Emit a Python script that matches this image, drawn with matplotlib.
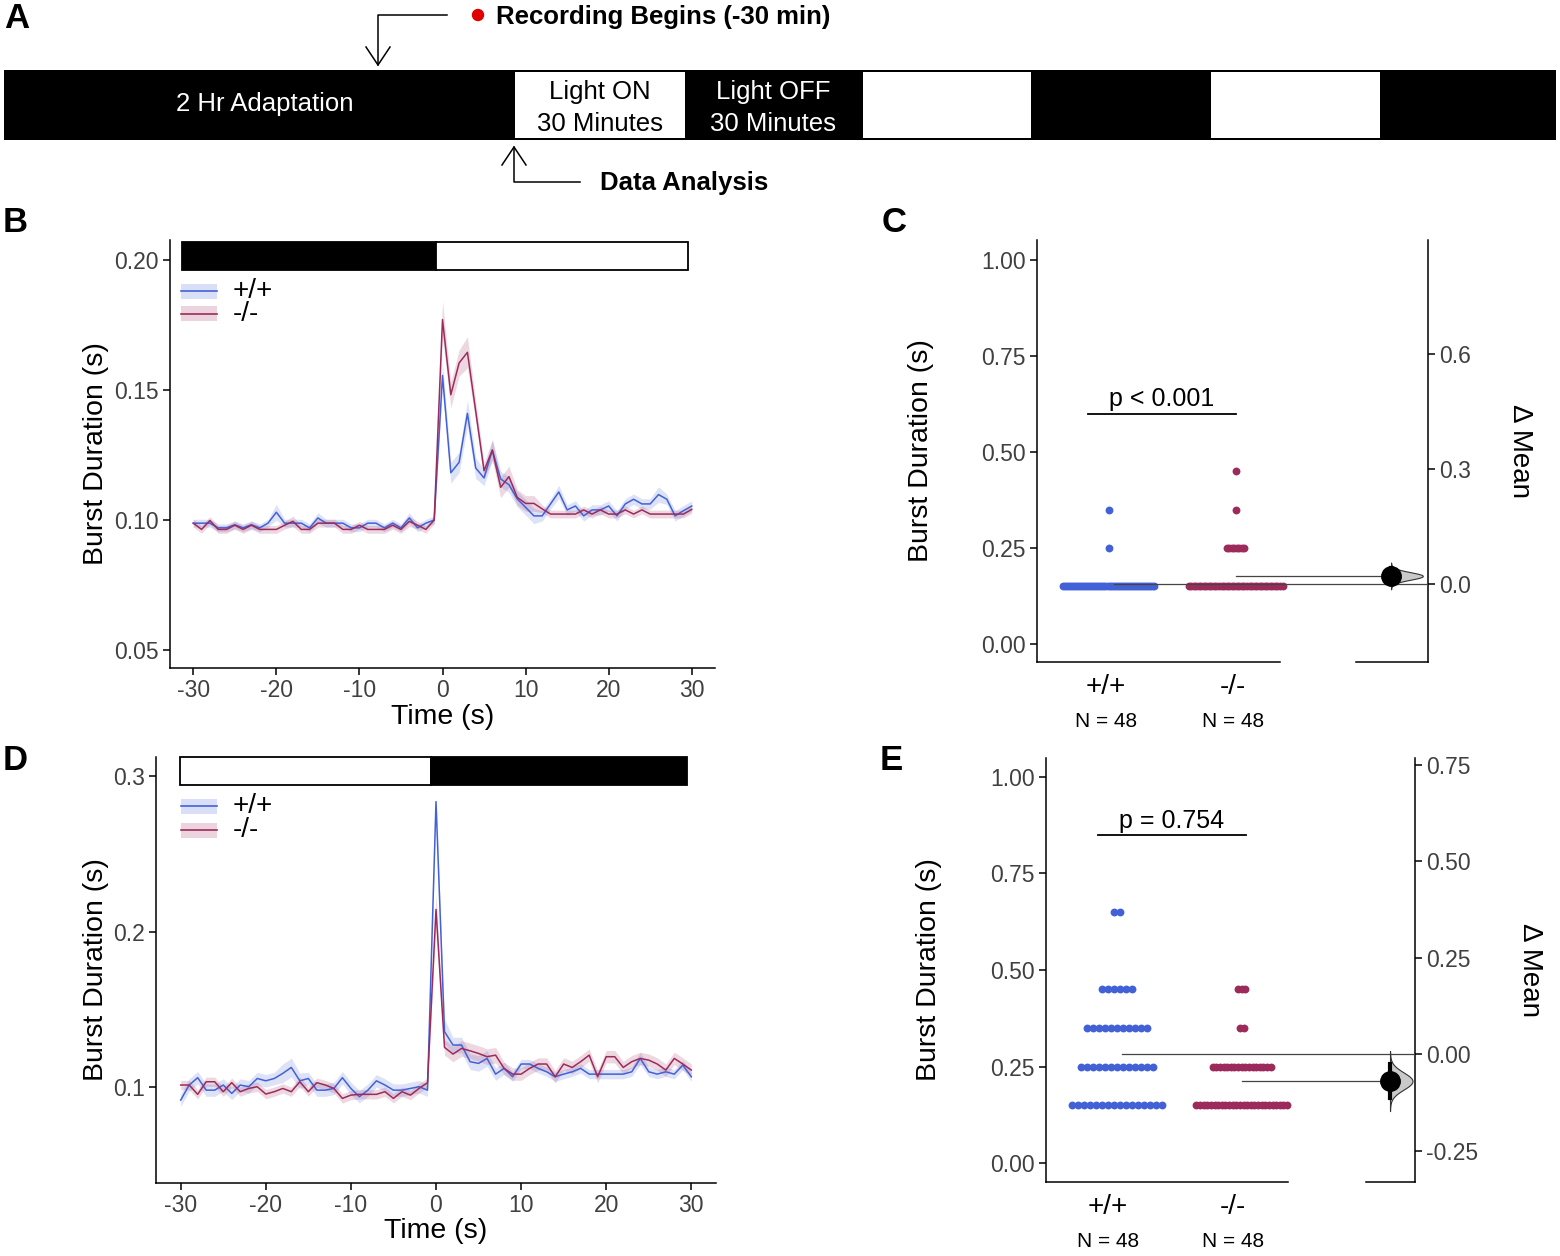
import numpy as np
import matplotlib

matplotlib.use('Agg')
import matplotlib.pyplot as plt
import matplotlib.ticker as ticker
import matplotlib.transforms as mtransforms
from matplotlib.patches import Rectangle, Circle
from matplotlib.lines import Line2D

plt.rcParams['font.family'] = ['Liberation Sans', 'DejaVu Sans']
plt.rcParams['axes.unicode_minus'] = False

# ---------------- data ----------------
time_s = np.arange(-30, 31)

# panel B: light ON transition (mean and se per 1 s bin)
b_wt = [0.0988, 0.0988, 0.0988, 0.0970, 0.0970, 0.0982, 0.0970, 0.0982, 0.0970, 0.0988,
        0.1030, 0.0988, 0.0988, 0.0988, 0.0970, 0.1008, 0.0988, 0.0988, 0.0988, 0.0970,
        0.0970, 0.0988, 0.0988, 0.0970, 0.0988, 0.0970, 0.1008, 0.0970, 0.0988, 0.1000,
        0.1556, 0.1182, 0.1222, 0.1410, 0.1200, 0.1162, 0.1269, 0.1158, 0.1136, 0.1081,
        0.1049, 0.1016, 0.1016, 0.1062, 0.1108, 0.1039, 0.1054, 0.1016, 0.1039, 0.1039,
        0.1054, 0.1016, 0.1062, 0.1080, 0.1062, 0.1062, 0.1098, 0.1080, 0.1016, 0.1036,
        0.1054]
b_wt_se = [0.0015, 0.0015, 0.0015, 0.0015, 0.0015, 0.0015, 0.0015, 0.0015, 0.0015, 0.0015,
           0.0030, 0.0015, 0.0015, 0.0015, 0.0015, 0.0020, 0.0015, 0.0015, 0.0015, 0.0015,
           0.0015, 0.0015, 0.0015, 0.0015, 0.0015, 0.0015, 0.0020, 0.0015, 0.0015, 0.0015,
           0.0050, 0.0040, 0.0040, 0.0050, 0.0040, 0.0030, 0.0040, 0.0030, 0.0030, 0.0030,
           0.0030, 0.0030, 0.0020, 0.0020, 0.0025, 0.0020, 0.0020, 0.0020, 0.0020, 0.0020,
           0.0020, 0.0020, 0.0020, 0.0020, 0.0020, 0.0020, 0.0030, 0.0020, 0.0020, 0.0020,
           0.0020]
b_ko = [0.0988, 0.0964, 0.0998, 0.0964, 0.0964, 0.0980, 0.0964, 0.0980, 0.0964, 0.0964,
        0.0964, 0.0980, 0.0995, 0.0964, 0.0964, 0.0988, 0.0988, 0.0988, 0.0964, 0.0964,
        0.0980, 0.0964, 0.0964, 0.0964, 0.0980, 0.0964, 0.0995, 0.0980, 0.0964, 0.1000,
        0.1771, 0.1482, 0.1604, 0.1645, 0.1418, 0.1190, 0.1269, 0.1126, 0.1167, 0.1087,
        0.1064, 0.1064, 0.1043, 0.1023, 0.1023, 0.1023, 0.1023, 0.1039, 0.1023, 0.1039,
        0.1023, 0.1023, 0.1039, 0.1023, 0.1039, 0.1023, 0.1023, 0.1023, 0.1023, 0.1023,
        0.1041]
b_ko_se = [0.0015, 0.0015, 0.0015, 0.0015, 0.0015, 0.0015, 0.0015, 0.0015, 0.0015, 0.0015,
           0.0015, 0.0015, 0.0020, 0.0015, 0.0015, 0.0015, 0.0015, 0.0015, 0.0015, 0.0015,
           0.0015, 0.0015, 0.0015, 0.0015, 0.0015, 0.0015, 0.0020, 0.0015, 0.0015, 0.0015,
           0.0070, 0.0050, 0.0050, 0.0060, 0.0040, 0.0030, 0.0040, 0.0040, 0.0040, 0.0030,
           0.0030, 0.0030, 0.0015, 0.0015, 0.0015, 0.0015, 0.0015, 0.0015, 0.0015, 0.0015,
           0.0015, 0.0015, 0.0015, 0.0015, 0.0015, 0.0015, 0.0015, 0.0015, 0.0015, 0.0015,
           0.0015]

# panel D: light OFF transition
d_wt = [0.0916, 0.1013, 0.1060, 0.0980, 0.0980, 0.1013, 0.0959, 0.1013, 0.1002, 0.1055,
        0.1040, 0.1055, 0.1088, 0.1126, 0.1040, 0.1055, 0.0980, 0.0980, 0.0991, 0.1060,
        0.0991, 0.0938, 0.0980, 0.1040, 0.1013, 0.0980, 0.0980, 0.0991, 0.1002, 0.0980,
        0.2835, 0.1356, 0.1270, 0.1270, 0.1163, 0.1152, 0.1184, 0.1083, 0.1120, 0.1066,
        0.1148, 0.1148, 0.1120, 0.1098, 0.1066, 0.1083, 0.1098, 0.1120, 0.1083, 0.1083,
        0.1083, 0.1083, 0.1083, 0.1098, 0.1184, 0.1098, 0.1083, 0.1098, 0.1083, 0.1141,
        0.1066]
d_wt_se = [0.004, 0.004, 0.004, 0.004, 0.004, 0.004, 0.004, 0.004, 0.004, 0.004,
           0.004, 0.004, 0.006, 0.006, 0.005, 0.004, 0.004, 0.004, 0.004, 0.004,
           0.004, 0.004, 0.004, 0.004, 0.004, 0.004, 0.004, 0.004, 0.004, 0.004,
           0.003, 0.008, 0.005, 0.005, 0.005, 0.005, 0.005, 0.004, 0.004, 0.003,
           0.003, 0.003, 0.003, 0.003, 0.003, 0.003, 0.003, 0.003, 0.003, 0.003,
           0.003, 0.003, 0.003, 0.003, 0.004, 0.003, 0.003, 0.003, 0.003, 0.003,
           0.003]
d_ko = [0.1013, 0.1013, 0.0953, 0.1034, 0.1034, 0.0970, 0.1028, 0.0970, 0.0991, 0.1002,
        0.0955, 0.0970, 0.0991, 0.0970, 0.1034, 0.0970, 0.1028, 0.1013, 0.0991, 0.0927,
        0.0948, 0.0953, 0.0953, 0.0953, 0.0970, 0.0927, 0.0970, 0.0948, 0.0991, 0.1028,
        0.2142, 0.1255, 0.1212, 0.1248, 0.1233, 0.1216, 0.1195, 0.1205, 0.1120, 0.1083,
        0.1083, 0.1120, 0.1148, 0.1148, 0.1066, 0.1148, 0.1126, 0.1163, 0.1205, 0.1066,
        0.1195, 0.1195, 0.1126, 0.1163, 0.1184, 0.1173, 0.1148, 0.1109, 0.1184, 0.1148,
        0.1109]
d_ko_se = [0.003, 0.003, 0.003, 0.003, 0.003, 0.003, 0.003, 0.003, 0.003, 0.003,
           0.003, 0.003, 0.003, 0.003, 0.003, 0.003, 0.003, 0.003, 0.003, 0.003,
           0.003, 0.003, 0.003, 0.003, 0.003, 0.003, 0.003, 0.003, 0.003, 0.003,
           0.010, 0.005, 0.005, 0.005, 0.005, 0.005, 0.005, 0.005, 0.004, 0.004,
           0.004, 0.004, 0.004, 0.004, 0.004, 0.004, 0.004, 0.004, 0.004, 0.004,
           0.004, 0.004, 0.004, 0.004, 0.004, 0.004, 0.004, 0.004, 0.004, 0.004,
           0.004]

# panels C / E: per-fish burst duration (value levels and counts)
genotypes = ['+/+', '-/-']
n_fish = ['N = 48', 'N = 48']
c_levels = [0.15, 0.25, 0.35, 0.45]
c_wt_counts = [46, 1, 1, 0]
c_ko_counts = [38, 8, 1, 1]
c_pvalue = 'p < 0.001'
c_bracket_y = 0.60

e_levels = [0.15, 0.25, 0.35, 0.45, 0.65]
e_wt_counts = [16, 13, 11, 6, 2]
e_ko_counts = [26, 17, 2, 3, 0]
e_pvalue = 'p = 0.754'
e_bracket_y = 0.85

# panel A timeline
timeline_edges = [4, 514, 686, 862, 1032, 1210, 1381, 1556]
timeline_dark = [True, False, True, False, True, False, True]
timeline_text = ['2 Hr Adaptation', 'Light ON\n30 Minutes', 'Light OFF\n30 Minutes', '', '', '', '']
timeline_text_x = [265, 600, 773, 0, 0, 0, 0]

BLUE = '#4361d6'
RED = '#9c2b5c'
TICK_GREY = '#404040'

W, H = 1560, 1256
fig = plt.figure(figsize=(W / 100, H / 100), dpi=100)


def px_axes(left, top, right, bottom):
    return fig.add_axes([left / W, 1 - bottom / H, (right - left) / W, (bottom - top) / H])


def panel_letter(x, y, s):
    fig.text(x / W, 1 - y / H, s, ha='left', va='center', fontsize=25, fontweight='bold')


# ---------------- panel A ----------------
axA = px_axes(0, 0, W, 200)
axA.set_xlim(0, W)
axA.set_ylim(200, 0)
axA.axis('off')
axA.add_patch(Rectangle((timeline_edges[0], 70), timeline_edges[-1] - timeline_edges[0], 70,
                        facecolor='black', edgecolor='none'))
for i, dark in enumerate(timeline_dark):
    x0, x1 = timeline_edges[i], timeline_edges[i + 1]
    if not dark:
        axA.add_patch(Rectangle((x0 + 1, 72), x1 - x0 - 2, 66, facecolor='white', edgecolor='none'))
    if timeline_text[i]:
        ty = 108 if '\n' in timeline_text[i] else 104
        axA.text(timeline_text_x[i], ty, timeline_text[i], ha='center', va='center', fontsize=18.5,
                 color='white' if dark else 'black', linespacing=1.4)

# recording arrow
axA.plot([447, 378, 378], [15, 15, 65], color='black', lw=1.1)
axA.plot([366, 378, 390], [47, 65, 47], color='black', lw=1.1)
axA.add_patch(Circle((478, 15), 5.5, color='#e00000'))
axA.text(496, 17, 'Recording Begins (-30 min)', ha='left', va='center', fontsize=18.5, fontweight='bold')
# data analysis arrow
axA.plot([580, 514, 514], [182, 182, 147], color='black', lw=1.1)
axA.plot([502, 514, 526], [165, 147, 165], color='black', lw=1.1)
axA.text(600, 183, 'Data Analysis', ha='left', va='center', fontsize=18.5, fontweight='bold')
panel_letter(4, 18, 'A')


# ---------------- time course panels ----------------
def style_axes(ax):
    for side in ('top', 'right'):
        ax.spines[side].set_visible(False)
    for side in ('left', 'bottom'):
        ax.spines[side].set_linewidth(1.1)
    ax.tick_params(direction='out', length=5, width=1.1, labelsize=16.5, labelcolor=TICK_GREY, pad=3)


def px_legend(x, y_rows):
    # ribbon + line keys drawn at pixel positions on the figure
    for label, col, y in zip(genotypes, (BLUE, RED), y_rows):
        fig.patches.append(Rectangle((x / W, 1 - (y + 7.5) / H), 36 / W, 15 / H, facecolor=col,
                                     alpha=0.2, edgecolor='none', transform=fig.transFigure))
        fig.lines.append(Line2D([x / W, (x + 36) / W], [1 - y / H, 1 - y / H], color=col, lw=1.2,
                                transform=fig.transFigure))
        fig.text((x + 52) / W, 1 - y / H, label, ha='left', va='center', fontsize=20)


def time_panel(ax, wt, wt_se, ko, ko_se, xlim, ylim, yticks, yfmt, bar, split, dark_first, ylab_x):
    style_axes(ax)
    for vals, se, col in ((wt, wt_se, BLUE), (ko, ko_se, RED)):
        vals = np.asarray(vals)
        se = np.asarray(se)
        ax.fill_between(time_s, vals - se, vals + se, color=col, alpha=0.18, lw=0)
    ax.plot(time_s, wt, color=BLUE, lw=1.1)
    ax.plot(time_s, ko, color=RED, lw=1.1)

    x0, x1, y0, y1 = bar
    c1, c2 = ('black', 'white') if dark_first else ('white', 'black')
    ax.add_patch(Rectangle((x0, y0), split - x0, y1 - y0, facecolor=c1, edgecolor='black',
                           lw=1.3, clip_on=False, zorder=5))
    ax.add_patch(Rectangle((split, y0), x1 - split, y1 - y0, facecolor=c2, edgecolor='black',
                           lw=1.3, clip_on=False, zorder=5))

    ax.set_xlim(*xlim)
    ax.set_ylim(*ylim)
    ax.set_xticks([-30, -20, -10, 0, 10, 20, 30])
    ax.set_yticks(yticks)
    ax.yaxis.set_major_formatter(ticker.FormatStrFormatter(yfmt))
    ax.set_xlabel('Time (s)', fontsize=20.5, labelpad=1)
    ax.set_ylabel('Burst Duration (s)', fontsize=20.5)
    ax.yaxis.set_label_coords(ylab_x, 0.5)


axB = px_axes(170, 240, 715, 668)
time_panel(axB, b_wt, b_wt_se, b_ko, b_ko_se, (-32.8, 32.8), (0.0431, 0.2077),
           [0.05, 0.10, 0.15, 0.20], '%.2f', (-31.4, 29.5, 0.1962, 0.2069), -0.8, True, -0.112)
px_legend(181, (291, 314))
panel_letter(3, 222, 'B')

axD = px_axes(156, 757, 716, 1183)
time_panel(axD, d_wt, d_wt_se, d_ko, d_ko_se, (-32.9, 32.9), (0.0383, 0.3122),
           [0.1, 0.2, 0.3], '%.1f', (-30.1, 29.5, 0.2942, 0.3122), -0.6, False, -0.084)
px_legend(181, (806, 830))
panel_letter(3, 760, 'D')


# ---------------- estimation panels ----------------
def swarm_x(values, center, gap):
    xs = np.empty(len(values))
    for v in np.unique(values):
        idx = np.where(values == v)[0]
        n = len(idx)
        xs[idx] = center + (np.arange(n) - (n - 1) / 2) * gap
    return xs


def estimation_panel(ax, levels, wt_counts, ko_counts, gaps, shift, xlim, ylim, gap_span, delta_x,
                     violin_w, rticks, rfmt, pval, bracket, bracket_y, ylab_x, dlab_x):
    wt = np.repeat(levels, wt_counts)
    ko = np.repeat(levels, ko_counts)
    m_wt, m_ko = wt.mean(), ko.mean()
    se = np.sqrt(wt.var(ddof=1) / len(wt) + ko.var(ddof=1) / len(ko))

    ax.scatter(swarm_x(wt, 1 + shift, gaps[0]), wt, s=32, color=BLUE, lw=0, zorder=3)
    ax.scatter(swarm_x(ko, 2 + shift, gaps[1]), ko, s=32, color=RED, lw=0, zorder=3)

    ax.plot([1 + shift + 0.04, xlim[1]], [m_wt, m_wt], color='#444444', lw=0.9, zorder=4)
    ax.plot([2 + shift, delta_x], [m_ko, m_ko], color='#444444', lw=0.9, zorder=4)

    # difference distribution (normal approx. from the group standard errors)
    yy = np.linspace(m_ko - 3.5 * se, m_ko + 3.5 * se, 200)
    dens = np.exp(-0.5 * ((yy - m_ko) / se) ** 2)
    ax.fill_betweenx(yy, delta_x, delta_x + violin_w * dens, facecolor='#c9c9c9',
                     edgecolor='#333333', lw=0.8, zorder=5)
    ax.plot([delta_x, delta_x], [m_ko - 1.96 * se, m_ko + 1.96 * se], color='black', lw=3, zorder=6)
    ax.plot([delta_x], [m_ko], 'o', color='black', ms=14, zorder=7)

    # p value bracket
    ax.plot(bracket, [bracket_y, bracket_y], color='black', lw=1.3)
    ax.text(np.mean(bracket), bracket_y + 0.006, pval, ha='center', va='bottom', fontsize=18)

    ax.set_xlim(*xlim)
    ax.set_ylim(*ylim)
    ax.spines['top'].set_visible(False)
    ax.spines['right'].set_visible(False)
    ax.spines['left'].set_linewidth(1.1)
    ax.spines['bottom'].set_linewidth(1.1)
    ax.spines['bottom'].set_bounds(xlim[0], gap_span[0])
    ax.plot([gap_span[1], xlim[1]], [ylim[0], ylim[0]], color='black', lw=1.1, clip_on=False)
    ax.set_xticks([])
    ax.set_yticks([0, 0.25, 0.5, 0.75, 1.0])
    ax.yaxis.set_major_formatter(ticker.FormatStrFormatter('%.2f'))
    ax.tick_params(axis='y', direction='out', length=5, width=1.1, labelsize=16.5,
                   labelcolor=TICK_GREY, pad=3)
    ax.set_ylabel('Burst Duration (s)', fontsize=20.5)
    ax.yaxis.set_label_coords(ylab_x, 0.5)

    trans = mtransforms.blended_transform_factory(ax.transData, ax.transAxes)
    for i, (g, n) in enumerate(zip(genotypes, n_fish)):
        ax.text(i + 1, -0.06, g, transform=trans, ha='center', va='center', fontsize=20)
        ax.text(i + 1, -0.14, n, transform=trans, ha='center', va='center', fontsize=15)

    sec = ax.secondary_yaxis('right', functions=(lambda y: y - m_wt, lambda d: d + m_wt))
    sec.set_yticks(rticks)
    sec.yaxis.set_major_formatter(ticker.FormatStrFormatter(rfmt))
    sec.spines['right'].set_linewidth(1.1)
    sec.tick_params(direction='out', length=5, width=1.1, labelsize=16.5, labelcolor=TICK_GREY, pad=3)
    ax.text(dlab_x, 0.5, '\u0394 Mean', transform=ax.transAxes, rotation=270,
            ha='center', va='center', fontsize=20)


axC = px_axes(1037, 240, 1428, 662)
estimation_panel(axC, c_levels, c_wt_counts, c_ko_counts, (0.016, 0.02), 0.02, (0.457, 3.535),
                 (-0.047, 1.052), (2.37, 2.97), 3.244, 0.25, [0.0, 0.3, 0.6], '%.1f',
                 c_pvalue, [0.86, 2.02], c_bracket_y, -0.263, 1.235)
panel_letter(882, 222, 'C')

axE = px_axes(1046, 758, 1415, 1182)
estimation_panel(axE, e_levels, e_wt_counts, e_ko_counts, (0.048, 0.029), 0.07, (0.504, 3.456),
                 (-0.049, 1.049), (2.44, 3.064), 3.256, 0.18, [-0.25, 0.0, 0.25, 0.5, 0.75], '%.2f',
                 e_pvalue, [0.92, 2.1], e_bracket_y, -0.282, 1.312)
panel_letter(880, 760, 'E')

fig.savefig('out.png', dpi=100)
